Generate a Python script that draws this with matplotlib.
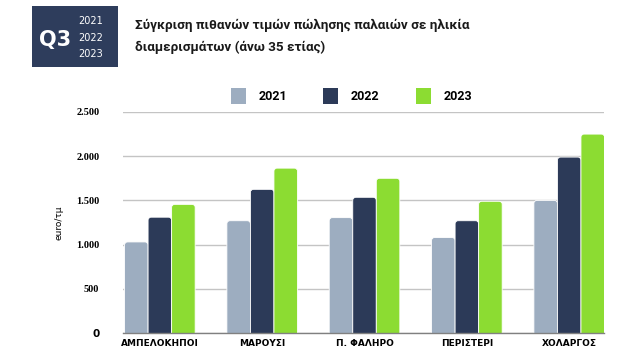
import numpy as np
import matplotlib
matplotlib.use("Agg")
import matplotlib.pyplot as plt
from matplotlib.patches import Rectangle, FancyBboxPatch, Patch

# data (euro per sq. m)
areas = ["ΑΜΠΕΛΟΚΗΠΟΙ", "ΜΑΡΟΥΣΙ", "Π. ΦΑΛΗΡΟ", "ΠΕΡΙΣΤΕΡΙ", "ΧΟΛΑΡΓΟΣ"]
years = ["2021", "2022", "2023"]
v2021 = [1030, 1270, 1305, 1080, 1500]
v2022 = [1310, 1625, 1535, 1270, 1990]
v2023 = [1455, 1865, 1750, 1490, 2250]
yticks = [0, 500, 1000, 1500, 2000, 2500]
ytick_labels = ["0", "500", "1.000", "1.500", "2.000", "2.500"]

colors = ["#9dadc0", "#2c3a58", "#8cdc32"]
navy = "#2e3d5c"

fig = plt.figure(figsize=(6.42, 3.56), dpi=100)
ax = fig.add_axes([0.1916, 0.0646, 0.7492, 0.6208])

x = np.arange(len(areas))
w = 0.23
for i, vals in enumerate([v2021, v2022, v2023]):
    bars = ax.bar(x + (i - 1) * w, vals, width=w, color=colors[i], zorder=3)
    # swap the plain bars for ones with slightly rounded tops
    for b in bars:
        bx, bw, bh = b.get_x(), b.get_width(), b.get_height()
        ax.add_patch(FancyBboxPatch((bx, -80), bw, bh + 80,
                                    boxstyle="round,pad=0,rounding_size=0.03",
                                    mutation_aspect=1160, facecolor=colors[i],
                                    edgecolor="white", linewidth=0.6, zorder=3))
        b.set_visible(False)

ax.set_xlim(-0.36, 4.34)
ax.set_ylim(0, 2500)
ax.set_yticks(yticks)
ax.set_yticklabels(ytick_labels)
for lab in ax.get_yticklabels():
    if lab.get_text() == "0":
        lab.set_fontfamily("DejaVu Sans")
    else:
        lab.set_fontfamily("Liberation Serif")
    lab.set_fontweight("bold")
    lab.set_fontsize(7.5)
ax.tick_params(axis="y", length=0, pad=17)
ax.set_xticks(x)
ax.set_xticklabels(areas, fontsize=6.5, fontweight="bold")
ax.tick_params(axis="x", length=0, pad=4)
ax.grid(axis="y", color="#c4c4c4", linewidth=1.0, zorder=0)
for s in ["top", "right", "left"]:
    ax.spines[s].set_visible(False)
ax.spines["bottom"].set_color("#808080")
ax.spines["bottom"].set_linewidth(1.0)
ax.spines["bottom"].set_zorder(4)

ax.set_ylabel("euro/τμ", fontsize=6.5, labelpad=9)

handles = [Patch(facecolor=c, label=yr) for c, yr in zip(colors, years)]
ax.legend(handles=handles, ncol=3, loc="lower center", bbox_to_anchor=(0.475, 0.985),
          frameon=False, handlelength=1.2, handleheight=1.6, columnspacing=2.9,
          handletextpad=1.0, prop={"family": "Roboto", "weight": "bold", "size": 9})

# header block
fig.patches.append(Rectangle((32 / 642, 1 - 67 / 356), 86 / 642, 61 / 356,
                             transform=fig.transFigure, facecolor=navy, edgecolor="none"))
fig.text(55 / 642, 1 - 40 / 356, "Q3", color="white", fontsize=15, fontweight="bold",
         ha="center", va="center")
for k, yy in enumerate([21, 38, 54]):
    fig.text(91 / 642, 1 - yy / 356, years[k], color="white", fontsize=7,
             ha="center", va="center")

fig.text(135 / 642, 1 - 25 / 356, "Σύγκριση πιθανών τιμών πώλησης παλαιών σε ηλικία",
         fontsize=9.7, fontweight="bold", family="Roboto", color="#1a1a1a", va="center")
fig.text(135 / 642, 1 - 47 / 356, "διαμερισμάτων (άνω 35 ετίας)",
         fontsize=9.7, fontweight="bold", family="Roboto", color="#1a1a1a", va="center")

fig.savefig("out.png", dpi=100)
